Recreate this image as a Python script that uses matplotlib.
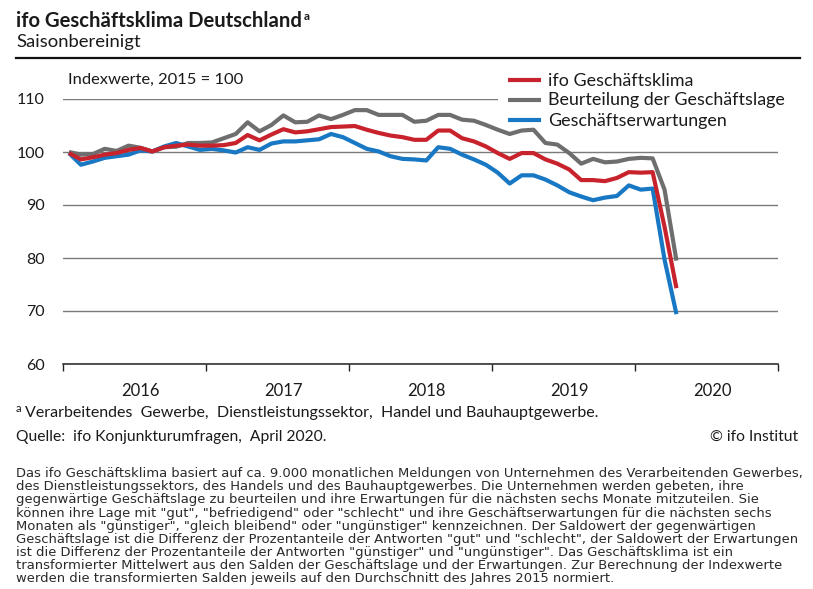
import matplotlib
matplotlib.use("Agg")
import matplotlib.pyplot as plt
from matplotlib.lines import Line2D
from matplotlib.patches import Rectangle

# ---------------- data (index, 2015 = 100), monthly Jan 2016 .. Apr 2020 ----------------
start_year = 2016
year_labels = ["2016", "2017", "2018", "2019", "2020"]
y_ticks = [60, 70, 80, 90, 100, 110]

klima = [99.8, 98.6, 99.0, 99.5, 99.8, 100.4, 100.75, 100.1, 100.9, 101.2, 101.4, 101.2,
         101.2, 101.3, 101.7, 103.2, 102.2, 103.3, 104.3, 103.7, 103.9, 104.3, 104.7, 104.8,
         104.9, 104.2, 103.6, 103.1, 102.8, 102.3, 102.3, 104.05, 104.05, 102.6, 102.0, 101.05,
         99.8, 98.7, 99.8, 99.8, 98.6, 97.8, 96.7, 94.7, 94.7, 94.5, 95.1, 96.2,
         96.1, 96.2, 85.9, 74.3]
lage = [100.0, 99.5, 99.6, 100.6, 100.2, 101.2, 100.8, 100.1, 100.9, 101.0, 101.7, 101.7,
        101.8, 102.6, 103.4, 105.6, 103.9, 105.1, 106.9, 105.6, 105.7, 106.9, 106.2, 107.0,
        107.9, 107.9, 107.0, 107.0, 107.0, 105.7, 105.9, 107.0, 107.0, 106.1, 105.9, 105.1,
        104.2, 103.4, 104.05, 104.2, 101.7, 101.4, 99.8, 97.8, 98.7, 98.05, 98.2, 98.7,
        98.9, 98.8, 92.9, 79.5]
erwartungen = [99.8, 97.6, 98.2, 98.9, 99.2, 99.5, 100.3, 100.1, 101.05, 101.7, 101.05, 100.4,
               100.6, 100.3, 99.9, 100.9, 100.4, 101.6, 102.0, 102.0, 102.2, 102.4, 103.4, 102.8,
               101.7, 100.6, 100.1, 99.2, 98.7, 98.6, 98.4, 100.9, 100.6, 99.5, 98.6, 97.6,
               96.1, 94.05, 95.6, 95.6, 94.8, 93.7, 92.4, 91.6, 90.9, 91.4, 91.7, 93.7,
               92.9, 93.1, 79.7, 69.4]
series_names = ["ifo Geschäftsklima", "Beurteilung der Geschäftslage", "Geschäftserwartungen"]

W, H = 813, 589
fig = plt.figure(figsize=(W / 100, H / 100), dpi=100)
fig.patch.set_facecolor("white")

FONT = "Lato"
TXT = "#1a1a1a"
RED, GRAY, BLUE = "#c8232d", "#6e6e6e", "#1878c4"

def fx(px):
    return px / W

def fy(py):
    return 1 - py / H

# ---------------- axes ----------------
ax_left, ax_right, ax_top, ax_bot = 63, 777.7, 99, 364
ax = fig.add_axes([fx(ax_left), fy(ax_bot), (ax_right - ax_left) / W, (ax_bot - ax_top) / H])
n_months = 12 * len(year_labels)
ax.set_xlim(0, n_months)
ax.set_ylim(60, 110)

xs = [i + 0.5 for i in range(len(klima))]
ax.plot(xs, lage, color=GRAY, lw=3, solid_joinstyle="round", solid_capstyle="butt", zorder=3)
ax.plot(xs, erwartungen, color=BLUE, lw=3, solid_joinstyle="round", solid_capstyle="butt", zorder=4)
ax.plot(xs, klima, color=RED, lw=3, solid_joinstyle="round", solid_capstyle="butt", zorder=5)

ax.set_yticks(y_ticks)
ax.set_yticklabels([str(v) for v in y_ticks], fontfamily=FONT, fontsize=11.5, color=TXT)
ax.tick_params(axis="y", length=0, pad=13)
ax.grid(axis="y", color="#7a7a7a", lw=1.0, zorder=0.5)
ax.set_axisbelow(True)

ax.set_xticks(range(0, n_months + 1, 12))
ax.set_xticklabels([])
ax.tick_params(axis="x", direction="out", length=5, width=1, color="#222222")
for s in ("left", "right", "top"):
    ax.spines[s].set_visible(False)
ax.spines["bottom"].set_color("#222222")
ax.spines["bottom"].set_linewidth(1.1)

for k, lab in enumerate(year_labels):
    ax.text(12 * k + 6.5, -(396 - ax_bot) / (ax_bot - ax_top), lab, transform=ax.get_xaxis_transform(),
            ha="center", va="baseline", fontfamily=FONT, fontsize=12, color=TXT)

# white box behind legend (interrupts top gridline)
ax.add_patch(Rectangle(((498 - ax_left) / (ax_right - ax_left), 0.93), 1.0, 0.2,
                       transform=ax.transAxes, facecolor="white", edgecolor="none",
                       zorder=2, clip_on=False))

# ---------------- texts ----------------
renderer = fig.canvas.get_renderer()

def fit(t, width):
    bb = t.get_window_extent(renderer=renderer)
    t.set_fontsize(t.get_fontsize() * width / bb.width)
    return t

title = fig.text(fx(16), fy(27), "ifo Geschäftsklima Deutschland", fontfamily=FONT,
                 fontweight="bold", fontsize=14, color=TXT, va="baseline")
fit(title, 287)
tb = title.get_window_extent(renderer=renderer)
fig.text(fx(tb.x1 + 1.5), fy(20), "a", fontfamily=FONT, fontweight="bold", fontsize=8.5,
         color=TXT, va="baseline")

sub = fig.text(fx(16), fy(47.5), "Saisonbereinigt", fontfamily=FONT, fontsize=12,
               color=TXT, va="baseline")
fit(sub, 124)

fig.add_artist(Line2D([fx(16), fx(800)], [fy(58.3), fy(58.3)], transform=fig.transFigure,
                      color="#111111", lw=1.6))

idx = fig.text(fx(68), fy(84.3), "Indexwerte, 2015 = 100", fontfamily=FONT, fontsize=11,
               color=TXT, va="baseline")
fit(idx, 175)

# legend
leg_colors = [RED, GRAY, BLUE]
leg_y = [80, 100, 120]
leg_texts = []
for name, col, yy in zip(series_names, leg_colors, leg_y):
    fig.add_artist(Line2D([fx(508), fx(541)], [fy(yy - 0.5), fy(yy - 0.5)],
                          transform=fig.transFigure, color=col, lw=3, solid_capstyle="butt"))
    t = fig.text(fx(548), fy(yy + 5.5), name, fontfamily=FONT, fontsize=12, color=TXT,
                 va="baseline")
    leg_texts.append(t)
bb = leg_texts[1].get_window_extent(renderer=renderer)
scale = 236 / bb.width
for t in leg_texts:
    t.set_fontsize(t.get_fontsize() * scale)

# footnotes
fig.text(fx(16), fy(411.5), "a", fontfamily=FONT, fontsize=8, color=TXT, va="baseline")
fn = fig.text(fx(25), fy(417), "Verarbeitendes  Gewerbe,  Dienstleistungssektor,  Handel und Bauhauptgewerbe.",
              fontfamily=FONT, fontsize=11, color=TXT, va="baseline")
fit(fn, 572)
q = fig.text(fx(16), fy(441), "Quelle:  ifo Konjunkturumfragen,  April 2020.", fontfamily=FONT,
             fontsize=11, color=TXT, va="baseline")
fit(q, 310)
c = fig.text(fx(798), fy(441), "© ifo Institut", fontfamily=FONT, fontsize=11, color=TXT,
             va="baseline", ha="right")
fit(c, 88)

para = [
    "Das ifo Geschäftsklima basiert auf ca. 9.000 monatlichen Meldungen von Unternehmen des Verarbeitenden Gewerbes,",
    "des Dienstleistungssektors, des Handels und des Bauhauptgewerbes. Die Unternehmen werden gebeten, ihre",
    "gegenwärtige Geschäftslage zu beurteilen und ihre Erwartungen für die nächsten sechs Monate mitzuteilen. Sie",
    "können ihre Lage mit \"gut\", \"befriedigend\" oder \"schlecht\" und ihre Geschäftserwartungen für die nächsten sechs",
    "Monaten als \"günstiger\", \"gleich bleibend\" oder \"ungünstiger\" kennzeichnen. Der Saldowert der gegenwärtigen",
    "Geschäftslage ist die Differenz der Prozentanteile der Antworten \"gut\" und \"schlecht\", der Saldowert der Erwartungen",
    "ist die Differenz der Prozentanteile der Antworten \"günstiger\" und \"ungünstiger\". Das Geschäftsklima ist ein",
    "transformierter Mittelwert aus den Salden der Geschäftslage und der Erwartungen. Zur Berechnung der Indexwerte",
    "werden die transformierten Salden jeweils auf den Durchschnitt des Jahres 2015 normiert.",
]
ptexts = []
for k, line in enumerate(para):
    t = fig.text(fx(16), fy(477.3 + 13.1 * k), line, fontfamily="DejaVu Sans", fontsize=8.5,
                 color="#2a2a2a", va="baseline")
    ptexts.append(t)
bb = ptexts[5].get_window_extent(renderer=renderer)
scale = 782 / bb.width
for t in ptexts:
    t.set_fontsize(t.get_fontsize() * scale)

fig.savefig("out.png", dpi=100, facecolor="white")
